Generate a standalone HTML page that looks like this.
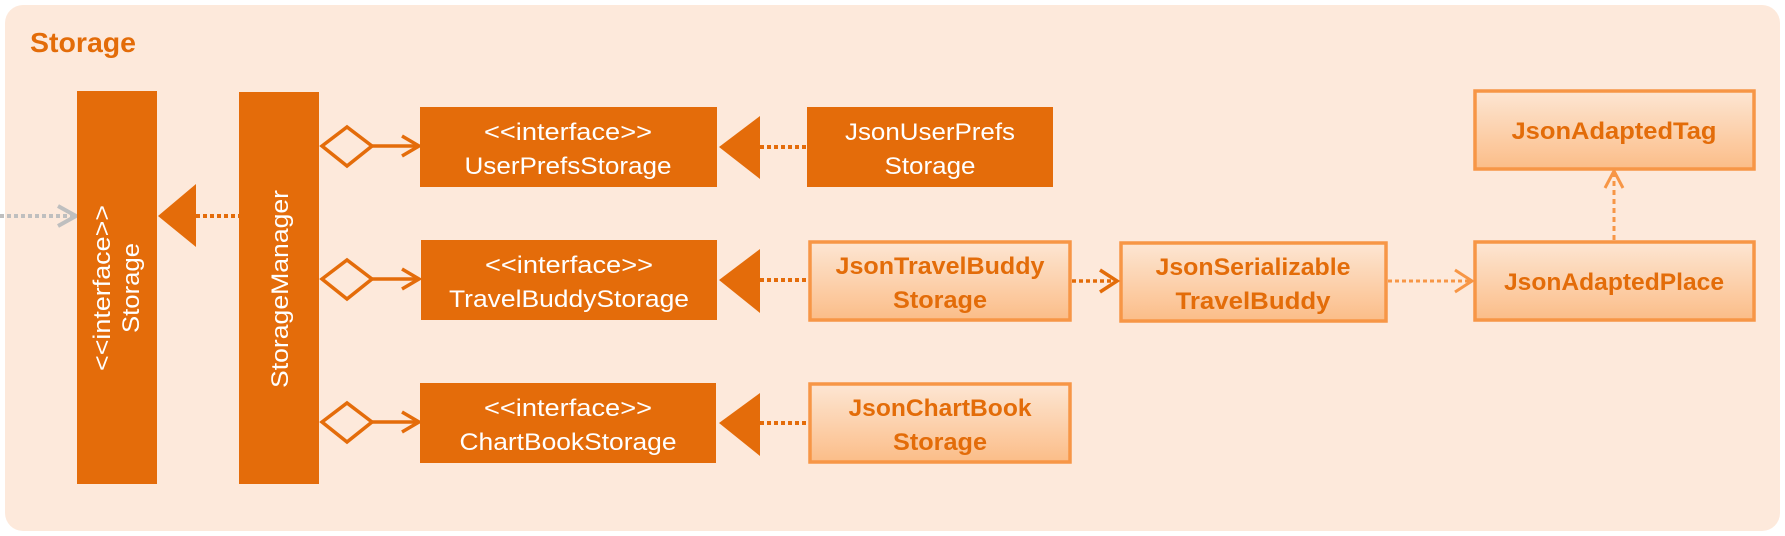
<!DOCTYPE html>
<html><head><meta charset="utf-8"><style>
html,body{margin:0;padding:0;background:#fff;}
svg{display:block;}
text{font-family:"Liberation Sans",sans-serif;}
</style></head><body>
<svg width="1785" height="536" viewBox="0 0 1785 536" xmlns="http://www.w3.org/2000/svg">
<defs>
<linearGradient id="g" x1="0" y1="0" x2="0" y2="1">
<stop offset="0" stop-color="#fde6d3"/><stop offset="1" stop-color="#fbbd88"/>
</linearGradient>
</defs>
<rect x="5" y="5" width="1775" height="526" rx="18" fill="#fde9db"/>
<text x="30" y="52" font-size="28" font-weight="bold" fill="#e36c09" textLength="106" lengthAdjust="spacingAndGlyphs">Storage</text>

<line x1="0" y1="216" x2="74" y2="216" stroke="#bfbfbf" stroke-width="4" stroke-dasharray="4,3"/>
<polyline points="58,206 76,216 58,226" fill="none" stroke="#bfbfbf" stroke-width="4"/>

<rect x="77" y="91" width="80" height="393" fill="#e46c0a"/>
<text transform="translate(110,288) rotate(-90)" text-anchor="middle" font-size="24" fill="#fff" textLength="166" lengthAdjust="spacingAndGlyphs">&lt;&lt;interface&gt;&gt;</text>
<text transform="translate(139,288) rotate(-90)" text-anchor="middle" font-size="24" fill="#fff" textLength="90" lengthAdjust="spacingAndGlyphs">Storage</text>

<rect x="239" y="92" width="80" height="392" fill="#e46c0a"/>
<text transform="translate(288,289) rotate(-90)" text-anchor="middle" font-size="24" fill="#fff" textLength="198" lengthAdjust="spacingAndGlyphs">StorageManager</text>

<line x1="196" y1="216" x2="239" y2="216" stroke="#e46c0a" stroke-width="4" stroke-dasharray="4,3"/>
<polygon points="158,216 196,184 196,247" fill="#e46c0a"/>

<g stroke="#e46c0a" stroke-width="3.5" fill="none">
<polygon points="322,146 347,127 372,146 347,166" fill="#fde9db"/>
<line x1="372" y1="146" x2="419" y2="146"/><polyline points="402,136 419,146 402,156"/>
<polygon points="322,279 347,260 372,279 347,299" fill="#fde9db"/>
<line x1="372" y1="279" x2="419" y2="279"/><polyline points="402,269 419,279 402,289"/>
<polygon points="322,422 347,403 372,422 347,442" fill="#fde9db"/>
<line x1="372" y1="422" x2="419" y2="422"/><polyline points="402,412 419,422 402,432"/>
</g>

<rect x="420" y="107" width="297" height="80" fill="#e46c0a"/>
<text x="568" y="140" text-anchor="middle" font-size="24" fill="#fff" textLength="168" lengthAdjust="spacingAndGlyphs">&lt;&lt;interface&gt;&gt;</text>
<text x="568" y="174" text-anchor="middle" font-size="24" fill="#fff" textLength="207" lengthAdjust="spacingAndGlyphs">UserPrefsStorage</text>

<rect x="421" y="240" width="296" height="80" fill="#e46c0a"/>
<text x="569" y="273" text-anchor="middle" font-size="24" fill="#fff" textLength="168" lengthAdjust="spacingAndGlyphs">&lt;&lt;interface&gt;&gt;</text>
<text x="569" y="307" text-anchor="middle" font-size="24" fill="#fff" textLength="240" lengthAdjust="spacingAndGlyphs">TravelBuddyStorage</text>

<rect x="420" y="383" width="296" height="80" fill="#e46c0a"/>
<text x="568" y="416" text-anchor="middle" font-size="24" fill="#fff" textLength="168" lengthAdjust="spacingAndGlyphs">&lt;&lt;interface&gt;&gt;</text>
<text x="568" y="450" text-anchor="middle" font-size="24" fill="#fff" textLength="217" lengthAdjust="spacingAndGlyphs">ChartBookStorage</text>

<g stroke="#e46c0a" stroke-width="4" stroke-dasharray="4,3">
<line x1="760" y1="147" x2="807" y2="147"/>
<line x1="760" y1="280" x2="809" y2="280"/>
<line x1="760" y1="423" x2="809" y2="423"/>
</g>
<polygon points="719,147 760,116 760,179" fill="#e46c0a"/>
<polygon points="719,280 760,249 760,313" fill="#e46c0a"/>
<polygon points="719,423 760,393 760,456" fill="#e46c0a"/>

<rect x="807" y="107" width="246" height="80" fill="#e46c0a"/>
<text x="930" y="140" text-anchor="middle" font-size="24" fill="#fff" textLength="170" lengthAdjust="spacingAndGlyphs">JsonUserPrefs</text>
<text x="930" y="174" text-anchor="middle" font-size="24" fill="#fff" textLength="91" lengthAdjust="spacingAndGlyphs">Storage</text>

<g fill="url(#g)" stroke="#f79646" stroke-width="3.5">
<rect x="810" y="242" width="260" height="78"/>
<rect x="1121" y="243" width="265" height="78"/>
<rect x="1475" y="242" width="279" height="78"/>
<rect x="1475" y="91" width="279" height="78"/>
<rect x="810" y="384" width="260" height="78"/>
</g>
<g font-size="24" font-weight="bold" fill="#e36c09" text-anchor="middle">
<text x="940" y="274" textLength="209" lengthAdjust="spacingAndGlyphs">JsonTravelBuddy</text>
<text x="940" y="308" textLength="94" lengthAdjust="spacingAndGlyphs">Storage</text>
<text x="1253" y="275" textLength="195" lengthAdjust="spacingAndGlyphs">JsonSerializable</text>
<text x="1253" y="309" textLength="155" lengthAdjust="spacingAndGlyphs">TravelBuddy</text>
<text x="1614" y="290" textLength="220" lengthAdjust="spacingAndGlyphs">JsonAdaptedPlace</text>
<text x="1614" y="139" textLength="205" lengthAdjust="spacingAndGlyphs">JsonAdaptedTag</text>
<text x="940" y="416" textLength="183" lengthAdjust="spacingAndGlyphs">JsonChartBook</text>
<text x="940" y="450" textLength="94" lengthAdjust="spacingAndGlyphs">Storage</text>
</g>

<g stroke="#e36c09" stroke-width="3.5" fill="none">
<line x1="1072" y1="281" x2="1117" y2="281" stroke-dasharray="4,3"/>
<polyline points="1100,270 1117,281 1100,292"/>
</g>
<g stroke="#f79646" stroke-width="3" fill="none">
<line x1="1388" y1="281" x2="1472" y2="281" stroke-dasharray="4,3"/>
<polyline points="1455,270 1472,281 1455,292"/>
<line x1="1614" y1="240" x2="1614" y2="172" stroke-dasharray="5,4"/>
<polyline points="1605,188 1614,171 1623,188"/>
</g>
</svg>
</body></html>
